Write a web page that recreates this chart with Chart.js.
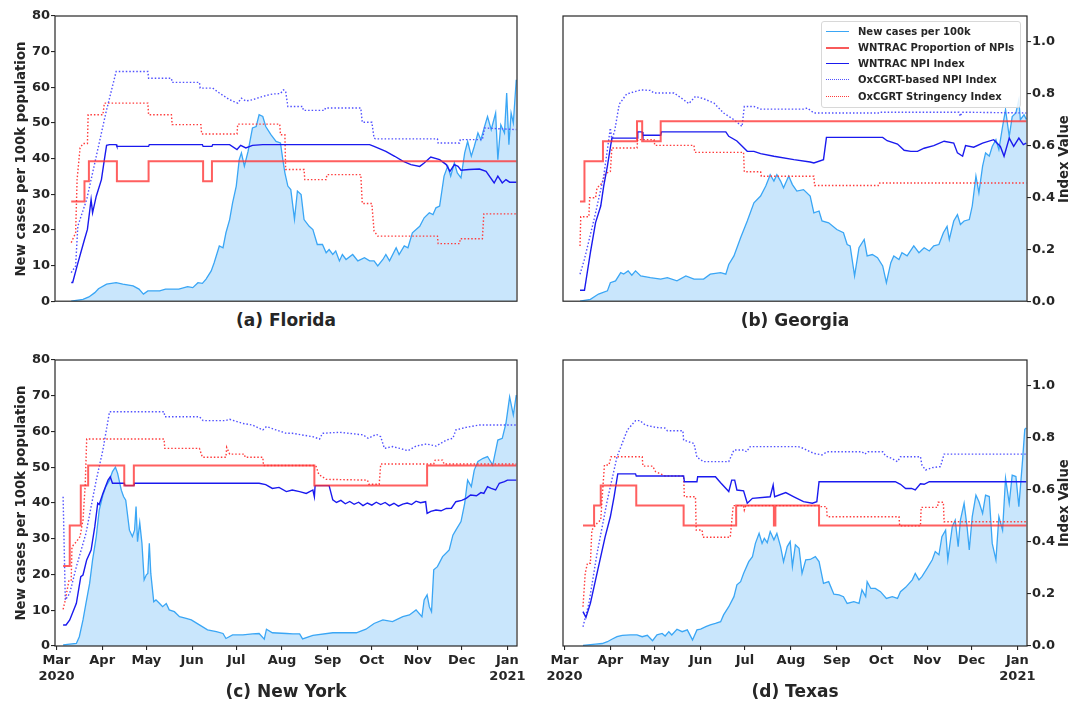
<!DOCTYPE html>
<html><head><meta charset="utf-8">
<script src="https://cdn.jsdelivr.net/npm/chart.js@4.4.1/dist/chart.umd.min.js"></script>
<style>
body{margin:0;background:#fff;width:1084px;height:704px;position:relative;overflow:hidden;font-family:'DejaVu Sans',sans-serif;font-weight:bold;color:#262626}
canvas{position:absolute}
.t{position:absolute;white-space:nowrap;transform:translate(-50%,-50%)}
.ptitle{font-size:17px}
.atitle{font-size:13.3px;transform:translate(-50%,-50%) rotate(-90deg)}
#legend{position:absolute;left:821px;top:21px;width:198px;height:85px;border:1px solid #d8d8d8;border-radius:3px;background:rgba(255,255,255,0.85);font-size:10px}
.lrow{position:absolute;left:0;height:14px;width:198px}
.lh{position:absolute;left:4px;top:6px;width:23px;height:0}
.lt{position:absolute;left:36px;top:0;line-height:14px}
</style></head><body>
<canvas id="ca" style="left:0;top:0;width:545px;height:310px" width="545" height="310"></canvas>
<canvas id="cb" style="left:540px;top:0;width:544px;height:310px" width="544" height="310"></canvas>
<canvas id="cc" style="left:0;top:340px;width:545px;height:364px" width="545" height="364"></canvas>
<canvas id="cd" style="left:540px;top:340px;width:544px;height:364px" width="544" height="364"></canvas>

<div class="t ptitle" style="left:286px;top:320px">(a) Florida</div>
<div class="t ptitle" style="left:795px;top:320px">(b) Georgia</div>
<div class="t ptitle" style="left:286px;top:691px">(c) New York</div>
<div class="t ptitle" style="left:795px;top:691px">(d) Texas</div>
<div class="t atitle" style="left:20px;top:159px">New cases per 100k population</div>
<div class="t atitle" style="left:20px;top:503px">New cases per 100k population</div>
<div class="t atitle" style="left:1063px;top:159px">Index Value</div>
<div class="t atitle" style="left:1063px;top:503px">Index Value</div>

<div id="legend">
  <div class="lrow" style="top:3px"><div class="lh" style="border-top:1.5px solid #3aa6f5"></div><div class="lt">New cases per 100k</div></div>
  <div class="lrow" style="top:19px"><div class="lh" style="border-top:2px solid #f85a5a"></div><div class="lt">WNTRAC Proportion of NPIs</div></div>
  <div class="lrow" style="top:35px"><div class="lh" style="border-top:1.5px solid #1a1aee"></div><div class="lt">WNTRAC NPI Index</div></div>
  <div class="lrow" style="top:51px"><div class="lh" style="border-top:1.5px dotted #5050ff"></div><div class="lt">OxCGRT-based NPI Index</div></div>
  <div class="lrow" style="top:68px"><div class="lh" style="border-top:1.5px dotted #ff3b3b"></div><div class="lt">OxCGRT Stringency Index</div></div>
</div>

<script>
// x values: days since 2020-03-01
const monthDays = [0,31,61,92,122,153,184,214,245,275,306];
const monthLabels = [['Mar','2020'],'Apr','May','Jun','Jul','Aug','Sep','Oct','Nov','Dec',['Jan','2021']];
const seriesLabels = ['New cases per 100k','WNTRAC Proportion of NPIs','WNTRAC NPI Index','OxCGRT-based NPI Index','OxCGRT Stringency Index'];

// ---------- Florida ----------
const flCases = [[10,0],[18,0.5],[22,1.2],[26,2.4],[28.5,3.5],[34,4.8],[40.5,5.2],[45,4.8],[52,4.3],[56,3.4],[59,2],[62,2.9],[70,2.9],[74,3.4],[83,3.4],[89,4.1],[92.5,3.8],[96,5.2],[99,5],[101.5,6.2],[105,8.5],[107,10.8],[110.5,15.5],[113,15],[115,19.2],[117.5,22.9],[119.5,27.6],[122,32.3],[124,39.7],[125.5,41.6],[127.5,37.9],[130,42],[133,48.6],[135.5,49],[137.5,52.3],[140,51.8],[142,49],[145.5,46.7],[149,44.8],[152,44.4],[153.5,40],[155,36],[157,32.3],[159,31.3],[161.5,23],[163.5,30.9],[166,29.9],[168,22.9],[171.5,21],[174,20.1],[177,15.9],[180.5,15.9],[183,13.6],[185,14.5],[187.5,13.1],[189.5,14.1],[192,11.3],[194,13.1],[196.5,11.7],[201,13.1],[204.5,11.3],[209,12.2],[212.5,11.3],[215.5,11.3],[218,9.9],[221.5,11.7],[223.5,13.1],[226,11.3],[230.5,15],[232.5,13.1],[236,15.5],[238.5,15],[241.5,19.2],[246.5,21],[249.5,23.4],[253,24.8],[255.5,24.3],[257.5,26.2],[260,26.7],[263,35.1],[265.5,37.9],[267.5,35.1],[270,38.8],[272,36],[274.5,34.6],[277,41.6],[279,44.8],[281.5,40.7],[283.5,43.4],[286,47.2],[288,45.3],[290.5,49],[292.5,51.8],[295,48.1],[298,52.8],[299.5,39.7],[301.5,49.5],[304,47.2],[305.5,58.4],[307,43.9],[308.5,52.8],[310,50],[312,62.1]];
const flProp = [[10,0.385],[19,0.463],[22,0.54],[41,0.463],[62.5,0.54],[99.5,0.463],[105.5,0.54],[312,0.54]];
const flNpi = [[10,0.072],[11,0.072],[14,0.136],[19,0.238],[21,0.277],[23.5,0.392],[24.5,0.341],[27,0.405],[30.5,0.469],[32.5,0.546],[34,0.601],[36,0.604],[40.5,0.604],[41,0.597],[62.5,0.597],[63,0.604],[99,0.604],[99.5,0.597],[105.5,0.597],[106,0.604],[117.5,0.604],[122.5,0.585],[125,0.601],[128.5,0.591],[133,0.601],[140,0.604],[212.5,0.604],[215.5,0.597],[223.5,0.578],[229.5,0.559],[235,0.54],[240.5,0.527],[246.5,0.52],[249.5,0.533],[254,0.556],[260,0.546],[264.5,0.527],[267,0.501],[270,0.527],[272.5,0.52],[274.5,0.505],[280,0.508],[287,0.51],[291.5,0.501],[297,0.456],[299.5,0.482],[302.5,0.456],[305,0.469],[307.5,0.459],[312,0.459]];
const flOxNpi = [[10,0.11],[13,0.136],[14.5,0.29],[20.5,0.392],[27,0.559],[33.5,0.726],[40.5,0.886],[62,0.886],[62.5,0.86],[78,0.86],[78.5,0.844],[97,0.844],[97.5,0.822],[106,0.822],[110.5,0.803],[117.5,0.777],[123,0.764],[125.5,0.783],[128.5,0.772],[133,0.777],[140,0.79],[146.5,0.799],[152,0.801],[154,0.815],[155.5,0.81],[157,0.751],[167,0.751],[167.5,0.736],[182,0.736],[182.5,0.745],[206.5,0.745],[207.5,0.69],[214,0.69],[215.5,0.629],[216.5,0.626],[258.5,0.626],[259,0.61],[273.5,0.61],[274,0.623],[289,0.623],[290.5,0.668],[312,0.662]];
const flOxStr = [[10,0.226],[12,0.251],[13,0.264],[14,0.47],[16,0.591],[18,0.608],[21,0.608],[21.5,0.719],[31.5,0.719],[32.5,0.764],[62,0.764],[62.5,0.719],[78,0.719],[78.5,0.681],[98,0.681],[98.5,0.645],[122.5,0.645],[123,0.683],[151.5,0.683],[152,0.642],[155,0.642],[155.5,0.508],[168,0.508],[168.5,0.469],[183,0.469],[183.5,0.488],[206.5,0.488],[207.5,0.377],[214,0.377],[215.5,0.271],[218,0.251],[258.5,0.251],[259,0.222],[273.5,0.222],[274,0.241],[289,0.241],[290,0.337],[312,0.337]];

// ---------- Georgia ----------
const gaCases = [[10.5,0],[17.5,0.5],[23,2],[29,2.9],[31,5.2],[34.5,5.7],[38,8],[40,7.6],[43,8.5],[45.5,7.3],[48,8.5],[51.5,7.1],[58,6.6],[65,6.2],[69.5,6.6],[76,5.7],[82,7.1],[87.5,6.2],[94,6.2],[98.5,7.6],[105.5,8],[109,7.6],[111,10.3],[114.5,12.7],[119,17.8],[123.5,22.5],[128,27.6],[132.5,29.5],[136,32.3],[139,35.5],[141.5,33.7],[143.5,35.5],[146,33.7],[148,31.8],[151.5,35.1],[154,32.7],[157,30.9],[161.5,31.3],[166,29.5],[168.5,24.8],[172,25.3],[174,22.5],[178.5,22],[184,20.1],[188.5,19.2],[191,15.9],[193,15.5],[196,7.1],[199,15],[202.5,17.3],[204.5,12.7],[208,13.1],[211.5,12.2],[215,9.9],[217.5,5.2],[220.5,10.8],[222.5,12.7],[226,11.7],[228,13.6],[231.5,12.7],[236,15.5],[239.5,13.6],[243,15],[246.5,14.1],[249.5,15.5],[253,15.9],[256,19.2],[258.5,21],[260,17.3],[263,22.5],[265.5,24.3],[267.5,21.5],[270,22.5],[273.5,22.9],[275.5,26.7],[278,35.1],[280,30.4],[282.5,37.9],[284.5,41.6],[287,40.7],[289,43.4],[291.5,45.3],[293.5,42.5],[296,49],[298,53.7],[300.5,46.2],[302.5,51.8],[305,52.8],[307,56.5],[308,50.9],[310.5,52.3],[312,51]];
const gaProp = [[10.5,0.385],[13.5,0.54],[26,0.617],[49,0.694],[52.5,0.617],[65,0.694],[312,0.694]];
const gaNpi = [[10.5,0.042],[13.5,0.042],[17.5,0.187],[21,0.303],[24.5,0.367],[26.5,0.444],[29,0.521],[32,0.629],[49,0.629],[49.5,0.653],[52.5,0.653],[53,0.64],[65,0.64],[65.5,0.653],[109,0.653],[111,0.636],[116.5,0.618],[123.5,0.578],[128,0.578],[132.5,0.569],[141.5,0.559],[155,0.546],[166,0.537],[168.5,0.533],[175,0.546],[177,0.632],[215,0.632],[218,0.619],[225,0.606],[229.5,0.582],[234,0.578],[238.5,0.578],[243,0.59],[249.5,0.6],[256.5,0.617],[263,0.61],[265.5,0.572],[269,0.559],[271,0.6],[276.5,0.594],[282.5,0.61],[290,0.623],[294.5,0.597],[297,0.559],[300.5,0.629],[303.5,0.597],[307,0.629],[310,0.604],[312,0.61]];
const gaOxNpi = [[10.5,0.104],[13.5,0.162],[20.5,0.328],[26.5,0.482],[31,0.668],[32,0.62],[34,0.66],[37,0.76],[42,0.799],[51.5,0.815],[58,0.813],[60.5,0.803],[74,0.803],[80.5,0.777],[84,0.762],[88.5,0.79],[94,0.781],[101,0.764],[107.5,0.726],[114.5,0.7],[120,0.674],[121.5,0.751],[128,0.751],[132.5,0.741],[161.5,0.741],[164,0.745],[168.5,0.726],[212.5,0.726],[213,0.729],[266.5,0.729],[267.5,0.713],[268.5,0.729],[312,0.726]];
const gaOxStr = [[10.5,0.213],[11,0.326],[16.5,0.326],[17,0.399],[21,0.399],[22,0.437],[25.5,0.456],[27.5,0.492],[31,0.5],[32,0.591],[49,0.591],[49.5,0.623],[60.5,0.623],[61,0.601],[87.5,0.601],[88,0.574],[121,0.574],[121.5,0.499],[132.5,0.499],[133,0.482],[168.5,0.482],[169,0.446],[212.5,0.446],[213,0.456],[312,0.456]];

// ---------- New York ----------
const nyCases = [[4.5,0.3],[13.5,0.7],[15.5,2.6],[18,7.3],[20,11.9],[22.5,17.5],[24.5,24.1],[27,30.6],[29,38],[31.5,42.2],[33.5,44.6],[36,46.4],[38,48.8],[40,50],[41.5,48.3],[44,43.6],[45.5,41.8],[47,40.8],[49.5,32.4],[51.5,30.6],[53,32.4],[54,39],[55,29.2],[56.5,34.5],[58,28.7],[59.5,18.5],[61,19.9],[62,20.3],[63,28.7],[64,20.3],[66,12.4],[67.5,12.9],[70,11.9],[72,11],[74.5,11.9],[76.5,10.1],[80,9.6],[83.5,8.2],[88,7.7],[91.5,7.3],[97,5.9],[102.5,4.5],[108.5,4],[113,3.5],[115,2.1],[119.5,3.1],[126.5,3.1],[133,3.4],[137.5,3.5],[141,1.9],[142.5,4.7],[146.5,3.7],[156,3.5],[160.5,3.4],[165,3.4],[167,2],[174,3],[187.5,3.7],[203.5,3.7],[210,4.7],[215.5,6.3],[221.5,7.3],[228,6.8],[235,8.2],[239.5,8.7],[244,10.1],[248,8.2],[249.5,12.9],[251.5,14.3],[253,11],[254.5,9.6],[256,21.3],[258.5,22.2],[262,25],[266.5,26.9],[269,31],[271,32.4],[274.5,34.8],[277,39.9],[279,46.4],[281.5,44.6],[283.5,49.2],[286,51.6],[289.5,52.5],[292.5,53],[296,50.6],[299.5,57.6],[302.5,58.1],[305,62.3],[307.5,69.7],[310,64.6],[312,70.2]];
const nyProp = [[4.5,0.308],[9,0.463],[16.5,0.617],[21.5,0.694],[46,0.617],[52.5,0.694],[175,0.617],[251.5,0.694],[312,0.694]];
const nyNpi = [[4.5,0.081],[6.5,0.081],[9,0.1],[13.5,0.164],[16.5,0.267],[18,0.273],[20.5,0.331],[23.5,0.369],[26,0.459],[28,0.549],[29,0.544],[31.5,0.587],[35,0.638],[36.5,0.651],[38,0.626],[46,0.626],[46.5,0.617],[52.5,0.617],[53,0.626],[137.5,0.626],[142,0.621],[146.5,0.606],[151,0.61],[156,0.594],[160,0.6],[165,0.594],[169.5,0.587],[174,0.6],[175,0.574],[175.5,0.617],[185,0.617],[187.5,0.562],[190,0.552],[193,0.56],[196,0.547],[199,0.556],[202,0.545],[205,0.553],[208,0.54],[211,0.55],[214,0.542],[217,0.553],[220,0.544],[223,0.552],[226,0.54],[229,0.549],[232,0.538],[235,0.546],[238,0.55],[241,0.544],[244,0.557],[247,0.551],[250.5,0.555],[251.5,0.51],[254,0.518],[257.5,0.523],[261,0.52],[264.5,0.529],[268,0.53],[271,0.555],[275,0.56],[278,0.568],[281,0.581],[285,0.578],[288,0.59],[290,0.587],[292.5,0.613],[295,0.606],[298,0.6],[300.5,0.626],[304,0.632],[306,0.638],[312,0.638]];
const nyOxNpi = [[4.5,0.574],[6,0.177],[9,0.203],[13.5,0.305],[20,0.433],[27,0.638],[31.5,0.754],[36,0.901],[73,0.901],[73.5,0.882],[97,0.882],[99.5,0.867],[115,0.867],[117.5,0.872],[126.5,0.856],[133,0.85],[140,0.831],[142.5,0.844],[149,0.831],[156,0.818],[160,0.818],[174,0.805],[178.5,0.796],[180.5,0.818],[192,0.822],[208,0.812],[211.5,0.799],[217,0.814],[220,0.805],[222.5,0.76],[228,0.767],[233,0.76],[238.5,0.751],[244,0.769],[251,0.777],[257.5,0.769],[264.5,0.792],[269,0.799],[271,0.831],[278,0.841],[287,0.85],[312,0.85]];
const nyOxStr = [[4.5,0.141],[6,0.177],[8.5,0.254],[10,0.254],[10.5,0.382],[13.5,0.401],[16,0.421],[18,0.485],[19.5,0.619],[20.5,0.796],[73,0.796],[73.5,0.76],[97,0.76],[99,0.726],[115,0.726],[115.5,0.764],[117.5,0.738],[127.5,0.738],[128,0.726],[140,0.726],[140.5,0.694],[176,0.694],[178,0.66],[183,0.641],[211,0.638],[212,0.622],[219,0.622],[220,0.7],[256,0.7],[257,0.715],[262,0.715],[263,0.7],[312,0.7]];

// ---------- Texas ----------
const txCases = [[12.5,0.2],[21,0.5],[25.5,0.7],[29,1.2],[32,1.9],[35.5,2.6],[39,3],[44.5,3.1],[49,3.1],[52.5,2.6],[56,3],[59.5,1.5],[62.5,3.1],[66,3.5],[68,2.8],[70.5,4],[72.5,3.1],[76,4.7],[79.5,4],[83,4.5],[86.5,1.7],[89.5,4.5],[92,4.7],[95.5,5.4],[98.5,5.9],[102,6.3],[105.5,6.8],[107.5,8.7],[111,11],[114.5,13.8],[116.5,17.1],[119,18],[121,20.3],[124.5,23.6],[127,25],[129,28.7],[131.5,31.5],[133.5,28.7],[135,30.1],[137,28.9],[139,32],[141.5,29.7],[143.5,31.5],[146,27.8],[148,23.6],[150.5,27.8],[152.5,29.2],[154,22.2],[156,28.3],[158.5,27.3],[160.5,20.3],[163,24.1],[166,24.2],[169.5,25],[172,23.6],[175,17.5],[178.5,18],[182,14.5],[185.5,14.3],[188.5,13.8],[191,11.9],[195.5,12.4],[199,11.9],[201,15.7],[203.5,13.8],[204.5,18],[207,16.1],[210,16.1],[213.5,15.2],[217.5,13.3],[221.5,13.8],[225,13.3],[227,15.2],[230.5,16.4],[235,18.5],[237,20.3],[239.5,18.5],[241.5,19.4],[245,21.7],[248.5,24.1],[250.5,26.4],[253,25.5],[255,30.6],[257.5,32.4],[259,24.1],[262,33.4],[264,35.2],[266,27.8],[267.5,35.2],[270,39.9],[272,33.4],[273.5,26.9],[275.5,36.2],[278,42.2],[280,40.4],[282.5,37.1],[284.5,42.2],[287,41.8],[289,28.7],[291.5,24.1],[293.5,36.2],[296,32.4],[298,46.9],[300.5,39.9],[302.5,47.8],[305,47.4],[307,39],[309.5,52],[311,60.6],[312,61]];
const txProp = [[12.5,0.463],[20,0.54],[24.5,0.617],[48.5,0.54],[80.5,0.463],[116,0.54],[141.5,0.463],[142.5,0.54],[172,0.463],[312,0.463]];
const txNpi = [[12.5,0.132],[14.5,0.11],[17.5,0.164],[21,0.254],[24.5,0.344],[27.5,0.421],[31,0.497],[33.5,0.574],[36,0.662],[48,0.662],[48.5,0.654],[80.5,0.654],[81,0.632],[89.5,0.632],[90,0.651],[102,0.651],[105.5,0.628],[111,0.594],[113,0.638],[115,0.638],[116.5,0.6],[121,0.597],[123.5,0.549],[127,0.568],[139,0.574],[141,0.619],[142,0.574],[149.5,0.59],[155,0.574],[161.5,0.555],[167.5,0.549],[170.5,0.555],[172,0.632],[223.5,0.632],[227,0.622],[230.5,0.606],[234.5,0.606],[237,0.6],[240.5,0.624],[243,0.622],[246.5,0.632],[312,0.632]];
const txOxNpi = [[12.5,0.074],[16.5,0.164],[22,0.356],[29,0.562],[35.5,0.728],[42.5,0.831],[48,0.867],[51,0.867],[54.5,0.85],[61.5,0.841],[68,0.838],[69.5,0.828],[80,0.828],[80.5,0.792],[87.5,0.779],[89.5,0.726],[94,0.709],[111,0.709],[114.5,0.754],[121,0.754],[123,0.747],[125.5,0.767],[158,0.767],[161.5,0.76],[166,0.747],[168.5,0.741],[174,0.735],[177.5,0.747],[201,0.747],[203,0.738],[205,0.747],[215,0.747],[217,0.731],[221,0.722],[225,0.709],[227,0.728],[240.5,0.728],[241.5,0.696],[244,0.677],[248.5,0.686],[254,0.69],[256.5,0.738],[312,0.738]];
const txOxStr = [[12.5,0.151],[14,0.279],[15.5,0.318],[17.5,0.318],[18.5,0.446],[22,0.472],[24.5,0.485],[25.5,0.574],[27,0.696],[30,0.696],[31.5,0.728],[52.5,0.728],[53,0.692],[59.5,0.692],[61.5,0.671],[68,0.654],[80.5,0.654],[81,0.574],[88.5,0.574],[89,0.446],[93,0.446],[93.5,0.418],[112,0.418],[114,0.54],[121,0.54],[121.5,0.523],[122.5,0.54],[172,0.54],[172.5,0.536],[177,0.536],[177.5,0.497],[226,0.497],[226.5,0.462],[240.5,0.462],[241,0.533],[252,0.533],[252.5,0.553],[256,0.553],[256.5,0.478],[312,0.478]];

Chart.defaults.font.family = "'DejaVu Sans', sans-serif";
Chart.defaults.font.weight = 'bold';
Chart.defaults.font.size = 13;
Chart.defaults.color = '#262626';

const frame = {id:'frame', afterDatasetsDraw(chart){
  const {ctx, chartArea:a} = chart;
  ctx.save(); ctx.strokeStyle = '#262626'; ctx.lineWidth = 1.2;
  ctx.strokeRect(a.left, a.top, a.right - a.left, a.bottom - a.top);
  ctx.restore();
}};

const xy = arr => arr.map(p => ({x:p[0], y:p[1]}));
const tickGrid = {drawOnChartArea:false, drawTicks:true, tickLength:4, color:'#262626', lineWidth:1.1};

function makePanel(id, s, left, bottom, padding){
  const datasets = [
    {label:seriesLabels[0], data:xy(s.cases), yAxisID:'y', borderColor:'#3aa6f5', backgroundColor:'#c9e6fc', fill:'origin', borderWidth:1.3, order:5},
    {label:seriesLabels[1], data:xy(s.prop), yAxisID:'y1', stepped:'before', borderColor:'rgba(255,50,50,0.78)', borderWidth:2, fill:false, order:1},
    {label:seriesLabels[2], data:xy(s.npi), yAxisID:'y1', borderColor:'#1a1aee', borderWidth:1.4, fill:false, order:2},
    {label:seriesLabels[3], data:xy(s.oxNpi), yAxisID:'y1', borderColor:'#5050ff', borderDash:[1.5,2], borderWidth:1.4, fill:false, order:3},
    {label:seriesLabels[4], data:xy(s.oxStr), yAxisID:'y1', borderColor:'#ff3b3b', borderDash:[1.5,2], borderWidth:1.4, fill:false, order:4}
  ];
  return new Chart(document.getElementById(id), {
    type:'line',
    data:{datasets},
    options:{
      responsive:false, animation:false, events:[],
      layout:{padding},
      elements:{point:{radius:0}, line:{tension:0}},
      plugins:{legend:{display:false}, tooltip:{enabled:false}},
      scales:{
        x:{type:'linear', min:-1, max:312.5, display:bottom,
           afterBuildTicks: sc => { sc.ticks = monthDays.map(v => ({value:v})); },
           ticks:{autoSkip:false, maxRotation:0, minRotation:0, padding:2,
                  font:{size:13, weight:'bold', lineHeight:1.25},
                  callback: v => monthLabels[monthDays.indexOf(v)]},
           grid:tickGrid, border:{display:false},
           afterFit: sc => { sc.height = bottom ? 58 : 0; }},
        y:{type:'linear', position:'left', min:0, max:80, display:left,
           ticks:{stepSize:10, padding:1},
           grid:tickGrid, border:{display:false},
           afterFit: sc => { sc.width = left ? 55 : 0; }},
        y1:{type:'linear', position:'right', min:0, max:1.1, display:!left,
           ticks:{stepSize:0.2, includeBounds:false, padding:1, callback: v => v.toFixed(1)},
           grid:tickGrid, border:{display:false},
           afterFit: sc => { sc.width = left ? 0 : 57; }}
      }
    },
    plugins:[frame]
  });
}

makePanel('ca', {cases:flCases, prop:flProp, npi:flNpi, oxNpi:flOxNpi, oxStr:flOxStr}, true, false, {left:0, top:16, right:28, bottom:8});
makePanel('cb', {cases:gaCases, prop:gaProp, npi:gaNpi, oxNpi:gaOxNpi, oxStr:gaOxStr}, false, false, {left:23, top:16, right:0, bottom:8});
makePanel('cc', {cases:nyCases, prop:nyProp, npi:nyNpi, oxNpi:nyOxNpi, oxStr:nyOxStr}, true, true, {left:0, top:20, right:28, bottom:0});
makePanel('cd', {cases:txCases, prop:txProp, npi:txNpi, oxNpi:txOxNpi, oxStr:txOxStr}, false, true, {left:23, top:20, right:0, bottom:0});
</script>
</body></html>
